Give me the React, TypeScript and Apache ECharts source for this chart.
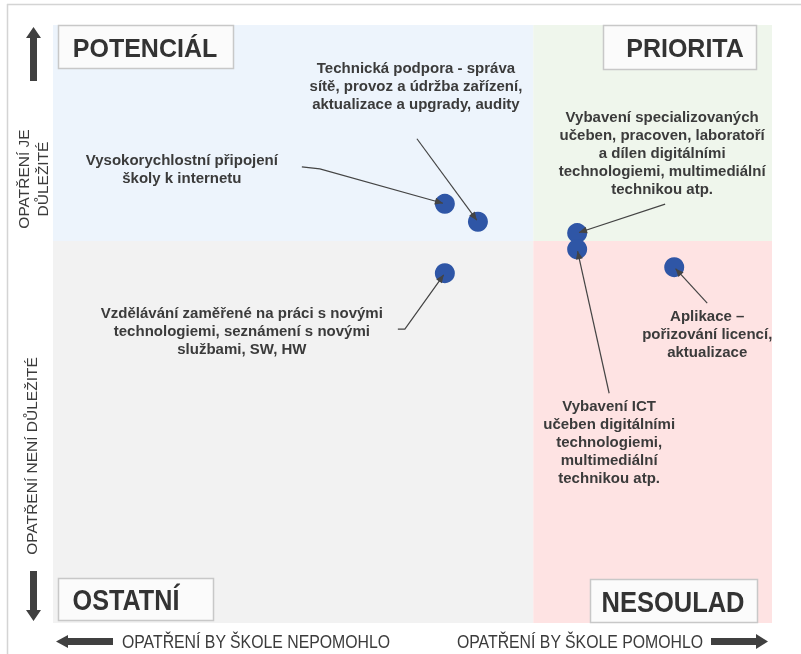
import React, { useEffect, useRef } from "react";
import * as echarts from "echarts";

// ---- data ----
const measures: string[] = [
  "Vysokorychlostní připojení\nškoly k internetu",
  "Technická podpora - správa\nsítě, provoz a údržba zařízení,\naktualizace a upgrady, audity",
  "Vzdělávání zaměřené na práci s novými\ntechnologiemi, seznámení s novými\nslužbami, SW, HW",
  "Vybavení specializovaných\nučeben, pracoven, laboratoří\na dílen digitálními\ntechnologiemi, multimediální\ntechnikou atp.",
  "Vybavení ICT\nučeben digitálními\ntechnologiemi,\nmultimediální\ntechnikou atp.",
  "Aplikace –\npořizování licencí,\naktualizace",
];
// how much the measure would help the school (x) and how important it is (y)
const helpfulness: number[] = [54.5, 59.1, 54.5, 72.9, 72.9, 86.4];
const importance: number[] = [70.1, 67.1, 58.5, 65.2, 62.5, 59.5];
const xSplit = 66.8;
const ySplit = 63.9;
const axisMin = 0;
const axisMax = 100;

const quadrantNames = ["POTENCIÁL", "PRIORITA", "OSTATNÍ", "NESOULAD"];
const yAxisTop = "OPATŘENÍ JE\nDŮLEŽITÉ";
const yAxisBottom = "OPATŘENÍ NENÍ DŮLEŽITÉ";
const xAxisLeft = "OPATŘENÍ BY ŠKOLE NEPOMOHLO";
const xAxisRight = "OPATŘENÍ BY ŠKOLE POMOHLO";

// ---- layout (pixel offsets of label centre and connector start relative to the point) ----
const labelOffset: [number, number][] = [
  [-263, -35],
  [-62, -136],
  [-203, 57],
  [85, -81],
  [32, 192],
  [33, 66],
];
const connectorPath: [number, number][][] = [
  [[-143, -37], [-125, -35]],
  [[-61, -83]],
  [[-47, 56], [-40, 56]],
  [[88, -29]],
  [[32, 144]],
  [[33, 36]],
];

const TEXT = "#3b3b3b";
const FONT = '"Liberation Sans", Arial, sans-serif';

export default function App() {
  const ref = useRef<HTMLDivElement>(null);
  useEffect(() => {
    if (!ref.current) return;
    const chart = echarts.init(ref.current, null, { renderer: "svg" });
    const points = helpfulness.map((x, i) => [x, importance[i]]);
    chart.setOption({
      animation: false,
      grid: { left: 53, top: 25, width: 719, height: 598 },
      xAxis: { type: "value", min: axisMin, max: axisMax, show: false },
      yAxis: { type: "value", min: axisMin, max: axisMax, show: false },
      series: [
        {
          type: "scatter",
          data: points,
          symbolSize: 20,
          itemStyle: { color: "#2F56A6", opacity: 1 },
          z: 5,
          markArea: {
            silent: true,
            data: [
              [{ coord: [axisMin, ySplit], itemStyle: { color: "#EDF4FC" } }, { coord: [xSplit, axisMax] }],
              [{ coord: [xSplit, ySplit], itemStyle: { color: "#EFF6EC" } }, { coord: [axisMax, axisMax] }],
              [{ coord: [axisMin, axisMin], itemStyle: { color: "#F2F2F2" } }, { coord: [xSplit, ySplit] }],
              [{ coord: [xSplit, axisMin], itemStyle: { color: "#FEE3E3" } }, { coord: [axisMax, ySplit] }],
            ],
          },
        },
      ],
    });

    const graphics: any[] = [];
    // frame
    graphics.push({ type: "line", shape: { x1: 7, y1: 4.5, x2: 801, y2: 4.5 }, style: { stroke: "#d4d4d4", lineWidth: 1.5 } });
    graphics.push({ type: "line", shape: { x1: 7.5, y1: 4, x2: 7.5, y2: 654 }, style: { stroke: "#d4d4d4", lineWidth: 1.5 } });

    // labels + connectors
    points.forEach((p, i) => {
      const [px, py] = chart.convertToPixel({ gridIndex: 0 }, p) as number[];
      const [lx, ly] = labelOffset[i];
      graphics.push({
        type: "text",
        z: 100,
        x: px + lx,
        y: py + ly,
        scaleX: 0.97,
        style: {
          text: measures[i],
          x: 0,
          y: 0,
          align: "center",
          verticalAlign: "middle",
          font: `bold 15.5px ${FONT}`,
          lineHeight: 18,
          fill: TEXT,
        },
      });
      const pts = connectorPath[i].map(([dx, dy]) => [px + dx, py + dy]);
      const prev = pts[pts.length - 1];
      const ddx = px - prev[0];
      const ddy = py - prev[1];
      const len = Math.sqrt(ddx * ddx + ddy * ddy);
      const ux = ddx / len;
      const uy = ddy / len;
      const tip = [px - ux * 2, py - uy * 2];
      pts.push(tip);
      graphics.push({ type: "polyline", z: 100, shape: { points: pts }, style: { stroke: "#444", lineWidth: 1.2, fill: null } });
      const back = [tip[0] - ux * 8, tip[1] - uy * 8];
      graphics.push({
        type: "polygon",
        z: 100,
        shape: {
          points: [tip, [back[0] - uy * 3.5, back[1] + ux * 3.5], [back[0] + uy * 3.5, back[1] - ux * 3.5]],
        },
        style: { fill: "#444" },
      });
    });

    // quadrant name boxes
    const boxes = [
      { x: 58, y: 25, w: 175, h: 43, tx: 145, size: 25, sx: 1 },
      { x: 603, y: 25, w: 153, h: 44, tx: 685, size: 25, sx: 1 },
      { x: 58, y: 578, w: 155, h: 42, tx: 126, size: 30, sx: 0.84 },
      { x: 590, y: 579, w: 167, h: 43, tx: 673, size: 30, sx: 0.85 },
    ];
    boxes.forEach((b, i) => {
      graphics.push({
        type: "rect",
        z: 90,
        shape: { x: b.x + 0.5, y: b.y + 0.5, width: b.w, height: b.h },
        style: { fill: "#FBFBFB", stroke: "#C8C8C8", lineWidth: 1.5 },
      });
      graphics.push({
        type: "text",
        z: 91,
        x: b.tx,
        y: b.y + b.h / 2 + 1,
        scaleX: b.sx,
        style: {
          text: quadrantNames[i],
          x: 0,
          y: 0,
          align: "center",
          verticalAlign: "middle",
          font: `bold ${b.size}px ${FONT}`,
          fill: "#333",
        },
      });
    });

    // side arrows
    const AR = "#404040";
    graphics.push({ type: "polygon", shape: { points: [[30, 81], [37, 81], [37, 38], [41, 38], [33.5, 27], [26, 38], [30, 38]] }, style: { fill: AR } });
    graphics.push({ type: "polygon", shape: { points: [[30, 571], [37, 571], [37, 610], [41, 610], [33.5, 621], [26, 610], [30, 610]] }, style: { fill: AR } });
    graphics.push({ type: "polygon", shape: { points: [[113, 638], [113, 645], [68, 645], [68, 648], [56, 641.5], [68, 635], [68, 638]] }, style: { fill: AR } });
    graphics.push({ type: "polygon", shape: { points: [[711, 638], [711, 645], [756, 645], [756, 649], [768, 641.5], [756, 634], [756, 638]] }, style: { fill: AR } });

    // axis captions
    graphics.push({
      type: "text",
      x: 33,
      y: 179,
      rotation: Math.PI / 2,
      style: { text: yAxisTop, x: 0, y: 0, align: "center", verticalAlign: "middle", font: `15.5px ${FONT}`, lineHeight: 19, fill: TEXT },
    });
    graphics.push({
      type: "text",
      x: 31,
      y: 456,
      rotation: Math.PI / 2,
      style: { text: yAxisBottom, x: 0, y: 0, align: "center", verticalAlign: "middle", font: `15.5px ${FONT}`, fill: TEXT },
    });
    graphics.push({
      type: "text",
      x: 256,
      y: 642,
      scaleX: 0.88,
      style: { text: xAxisLeft, x: 0, y: 0, align: "center", verticalAlign: "middle", font: `18px ${FONT}`, fill: TEXT },
    });
    graphics.push({
      type: "text",
      x: 580,
      y: 642,
      scaleX: 0.88,
      style: { text: xAxisRight, x: 0, y: 0, align: "center", verticalAlign: "middle", font: `18px ${FONT}`, fill: TEXT },
    });

    chart.setOption({ graphic: { elements: graphics } });
    return () => chart.dispose();
  }, []);
  return <div ref={ref} style={{ position: "fixed", left: 0, top: 0, width: 801, height: 654 }} />;
}
